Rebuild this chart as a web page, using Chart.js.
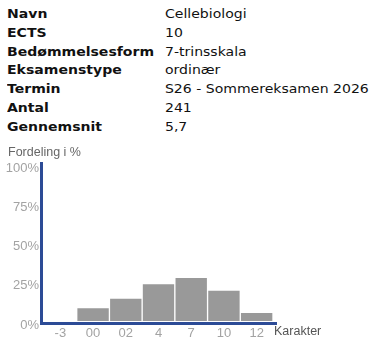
<!DOCTYPE html>
<html>
<head>
<meta charset="utf-8">
<script src="https://cdn.jsdelivr.net/npm/chart.js@4/dist/chart.umd.min.js"></script>
<style>
  body { margin: 0; background: #fff; width: 378px; height: 342px; overflow: hidden; position: relative; }
  #info {
    position: absolute; left: 7px; top: 4.7px;
    font-family: "DejaVu Sans", Verdana, sans-serif; font-size: 12px; line-height: 18.9px;
    color: #111; border-collapse: collapse;
    transform: scaleX(1.17); transform-origin: left top;
  }
  #info td { padding: 0; white-space: nowrap; vertical-align: top; }
  #info td.k { font-weight: bold; width: 135px; }
  #wrap { position: absolute; left: 0; top: 140px; width: 378px; height: 202px; }
</style>
</head>
<body>
<table id="info"></table>
<div id="wrap"><canvas id="chart" width="378" height="202"></canvas></div>
<script>
// ── Data ──────────────────────────────────────────
const infoKeys = ['Navn', 'ECTS', 'Bedømmelsesform', 'Eksamenstype', 'Termin', 'Antal', 'Gennemsnit'];
const infoValues = ['Cellebiologi', '10', '7-trinsskala', 'ordinær', 'S26 - Sommereksamen 2026', '241', '5,7'];

const grades = ['-3', '00', '02', '4', '7', '10', '12'];
const percents = [0, 8.5, 14.6, 23.8, 27.8, 19.7, 5.6];
const yTicks = [0, 25, 50, 75, 100];

// ── Info table ────────────────────────────────────
document.getElementById('info').innerHTML = infoKeys.map((k, i) =>
  `<tr><td class="k">${k}</td><td>${infoValues[i]}</td></tr>`
).join('');

// ── Axes + titles ─────────────────────────────────
const axisBlue = '#2c4b96';
const tickFont = { family: '"Liberation Sans", Arial', size: 13 };
const decor = {
  id: 'decor',
  afterDraw(chart) {
    const ctx = chart.ctx;
    const a = chart.chartArea;
    ctx.save();
    ctx.strokeStyle = axisBlue;
    ctx.lineWidth = 3;
    ctx.beginPath();
    ctx.moveTo(41.5, a.top - 2);
    ctx.lineTo(41.5, a.bottom + 4);
    ctx.moveTo(40, a.bottom + 2.5);
    ctx.lineTo(a.right + 4, a.bottom + 2.5);
    ctx.stroke();

    ctx.font = '12.5px "Liberation Sans", Arial, sans-serif';
    ctx.textBaseline = 'middle';
    ctx.fillStyle = '#666';
    ctx.fillText('Fordeling i %', 8, 13);
    ctx.fillStyle = '#555';
    ctx.fillText('Karakter', a.right + 1, 192);
    ctx.restore();
  }
};

new Chart(document.getElementById('chart'), {
  type: 'bar',
  data: {
    labels: grades,
    datasets: [{
      data: percents,
      backgroundColor: '#999999',
      borderColor: '#ffffff',
      borderWidth: 1,
      barPercentage: 1,
      categoryPercentage: 1
    }]
  },
  options: {
    responsive: false,
    animation: false,
    layout: { padding: { top: 24, right: 105, left: 0, bottom: 0 } },
    plugins: { legend: { display: false }, tooltip: { enabled: false } },
    scales: {
      x: {
        grid: { display: false, drawTicks: false },
        border: { display: false },
        ticks: { color: '#a3a3a3', font: tickFont, padding: 5 },
        afterFit(s) { s.height = 21; }
      },
      y: {
        min: 0, max: 100,
        afterBuildTicks(s) { s.ticks = yTicks.map(v => ({ value: v })); },
        grid: { display: false, drawTicks: false },
        border: { display: false },
        ticks: {
          color: '#a3a3a3', font: tickFont,
          padding: 5, labelOffset: 4,
          callback: v => v + '%'
        },
        afterFit(s) { s.width = 44; }
      }
    }
  },
  plugins: [decor]
});
</script>
</body>
</html>
